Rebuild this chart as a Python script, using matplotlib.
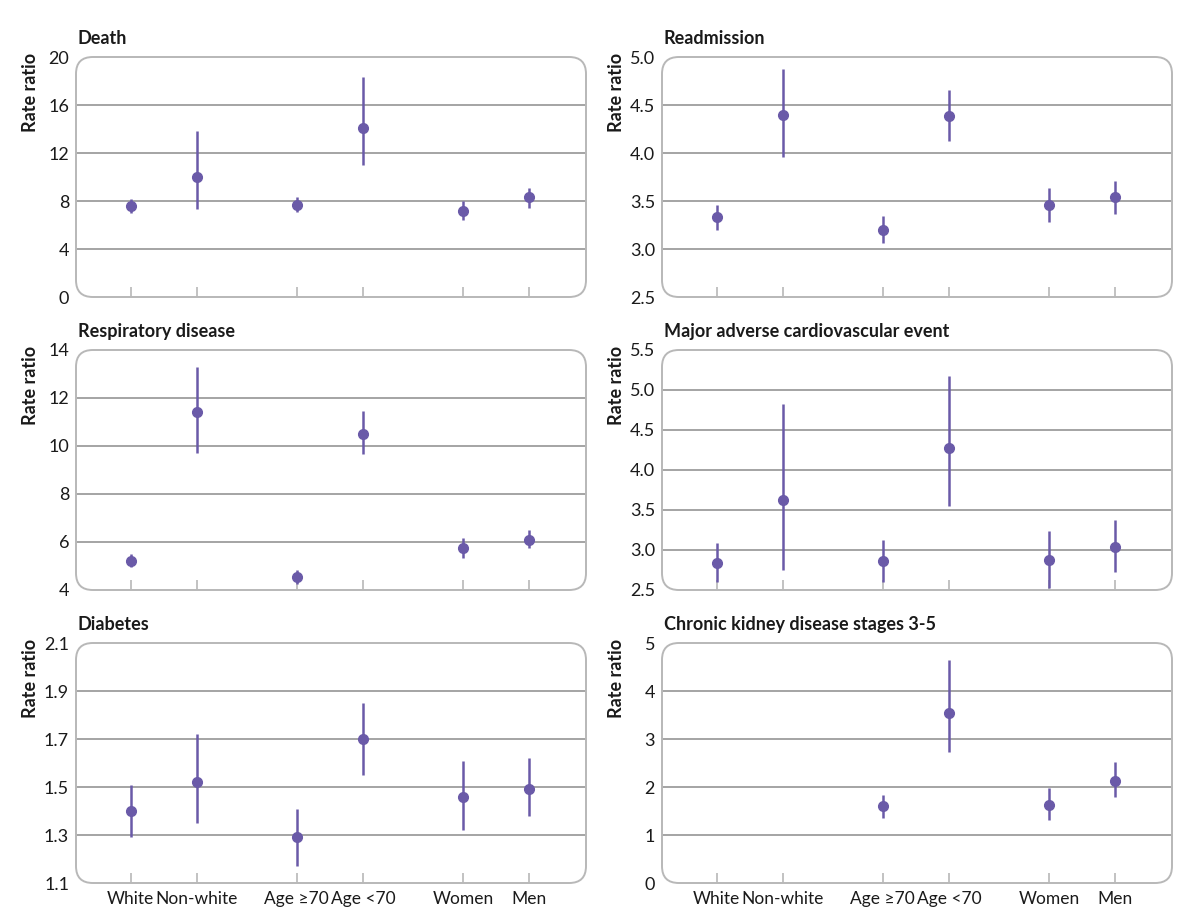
import numpy as np
import matplotlib
matplotlib.use("Agg")
import matplotlib.pyplot as plt
from matplotlib.patches import FancyBboxPatch

plt.rcParams['font.family'] = ['Lato', 'DejaVu Sans']

# categories and x positions (paired groups)
groups = ["White", "Non-white", "Age \u226570", "Age <70", "Women", "Men"]
xpos = [0, 1, 2.5, 3.5, 5, 6]

titles = ["Death", "Readmission", "Respiratory disease",
          "Major adverse cardiovascular event", "Diabetes",
          "Chronic kidney disease stages 3-5"]

# point estimates and confidence limits per outcome
death_est = [7.6, 10.0, 7.7, 14.1, 7.2, 8.3]
death_lo = [7.0, 7.3, 7.1, 11.0, 6.4, 7.4]
death_hi = [8.2, 13.8, 8.3, 18.3, 8.0, 9.1]

readm_est = [3.33, 4.40, 3.20, 4.39, 3.46, 3.54]
readm_lo = [3.20, 3.96, 3.06, 4.12, 3.28, 3.36]
readm_hi = [3.46, 4.88, 3.34, 4.66, 3.64, 3.71]

resp_est = [5.2, 11.4, 4.55, 10.5, 5.75, 6.1]
resp_lo = [4.95, 9.7, 4.25, 9.65, 5.35, 5.75]
resp_hi = [5.5, 13.3, 4.85, 11.45, 6.15, 6.5]

mace_est = [2.84, 3.63, 2.86, 4.28, 2.87, 3.04]
mace_lo = [2.60, 2.75, 2.60, 3.55, 2.53, 2.73]
mace_hi = [3.09, 4.83, 3.12, 5.18, 3.24, 3.38]

diab_est = [1.40, 1.52, 1.29, 1.70, 1.46, 1.49]
diab_lo = [1.29, 1.35, 1.17, 1.55, 1.32, 1.38]
diab_hi = [1.51, 1.72, 1.41, 1.85, 1.61, 1.62]

ckd_est = [np.nan, np.nan, 1.60, 3.55, 1.62, 2.13]
ckd_lo = [np.nan, np.nan, 1.36, 2.72, 1.32, 1.80]
ckd_hi = [np.nan, np.nan, 1.84, 4.65, 1.97, 2.52]

yticks = [
    [0, 4, 8, 12, 16, 20],
    [2.5, 3.0, 3.5, 4.0, 4.5, 5.0],
    [4, 6, 8, 10, 12, 14],
    [2.5, 3.0, 3.5, 4.0, 4.5, 5.0, 5.5],
    [1.1, 1.3, 1.5, 1.7, 1.9, 2.1],
    [0, 1, 2, 3, 4, 5],
]
ytick_fmt = ["{:.0f}", "{:.1f}", "{:.0f}", "{:.1f}", "{:.1f}", "{:.0f}"]

data = [
    (death_est, death_lo, death_hi),
    (readm_est, readm_lo, readm_hi),
    (resp_est, resp_lo, resp_hi),
    (mace_est, mace_lo, mace_hi),
    (diab_est, diab_lo, diab_hi),
    (ckd_est, ckd_lo, ckd_hi),
]

purple = "#6a5aa8"
grid_col = "#a4a4a4"
box_col = "#b8b8b8"
txt_col = "#1a1a1a"

W, H = 1200, 917
fig = plt.figure(figsize=(W / 100, H / 100), dpi=100)

col_x = [76, 662]
row_top = [57, 350, 643]
box_w, box_h = 510, 240
label_x = [31, 617]

for i in range(6):
    r, c = divmod(i, 2)
    x0 = col_x[c]
    y0 = row_top[r]
    ax = fig.add_axes([x0 / W, 1 - (y0 + box_h) / H, box_w / W, box_h / H])
    est, lo, hi = data[i]
    ticks = yticks[i]

    ax.set_xlim(-0.82, 6.85)
    ax.set_ylim(ticks[0], ticks[-1])

    for t in ticks[1:-1]:
        ax.axhline(t, color=grid_col, lw=1.4, zorder=1)

    est = np.array(est, dtype=float)
    lo = np.array(lo, dtype=float)
    hi = np.array(hi, dtype=float)
    ax.vlines(xpos, lo, hi, color=purple, lw=1.8, zorder=3)
    ax.plot(xpos, est, "o", color=purple, ms=7, zorder=4)

    for s in ax.spines.values():
        s.set_visible(False)
    box = FancyBboxPatch((0, 0), 1, 1, boxstyle="round,pad=0,rounding_size=0.033",
                         transform=ax.transAxes, fill=False, ec=box_col, lw=1.4,
                         clip_on=False, zorder=2, mutation_aspect=box_w / box_h)
    ax.add_patch(box)

    ax.set_yticks(ticks)
    ax.set_yticklabels([ytick_fmt[i].format(t) for t in ticks])
    ax.tick_params(axis="y", length=0, pad=5, labelsize=13, labelcolor=txt_col)
    ax.set_xticks(xpos)
    ax.tick_params(axis="x", direction="in", length=7, color=box_col, width=1.2,
                   labelsize=12.5, labelcolor=txt_col, pad=6)
    if r == 2:
        ax.set_xticklabels(groups)
    else:
        ax.set_xticklabels([])

    fig.text(label_x[c] / W, 1 - (y0 - 4) / H, "Rate ratio", rotation=90,
             ha="center", va="top", fontsize=13, fontweight="bold", color=txt_col)
    ax.text(0.003, 1.04, titles[i], transform=ax.transAxes,
            fontsize=13, fontweight="bold", ha="left", va="bottom", color=txt_col)

fig.savefig("out.png", dpi=100, facecolor="white")
